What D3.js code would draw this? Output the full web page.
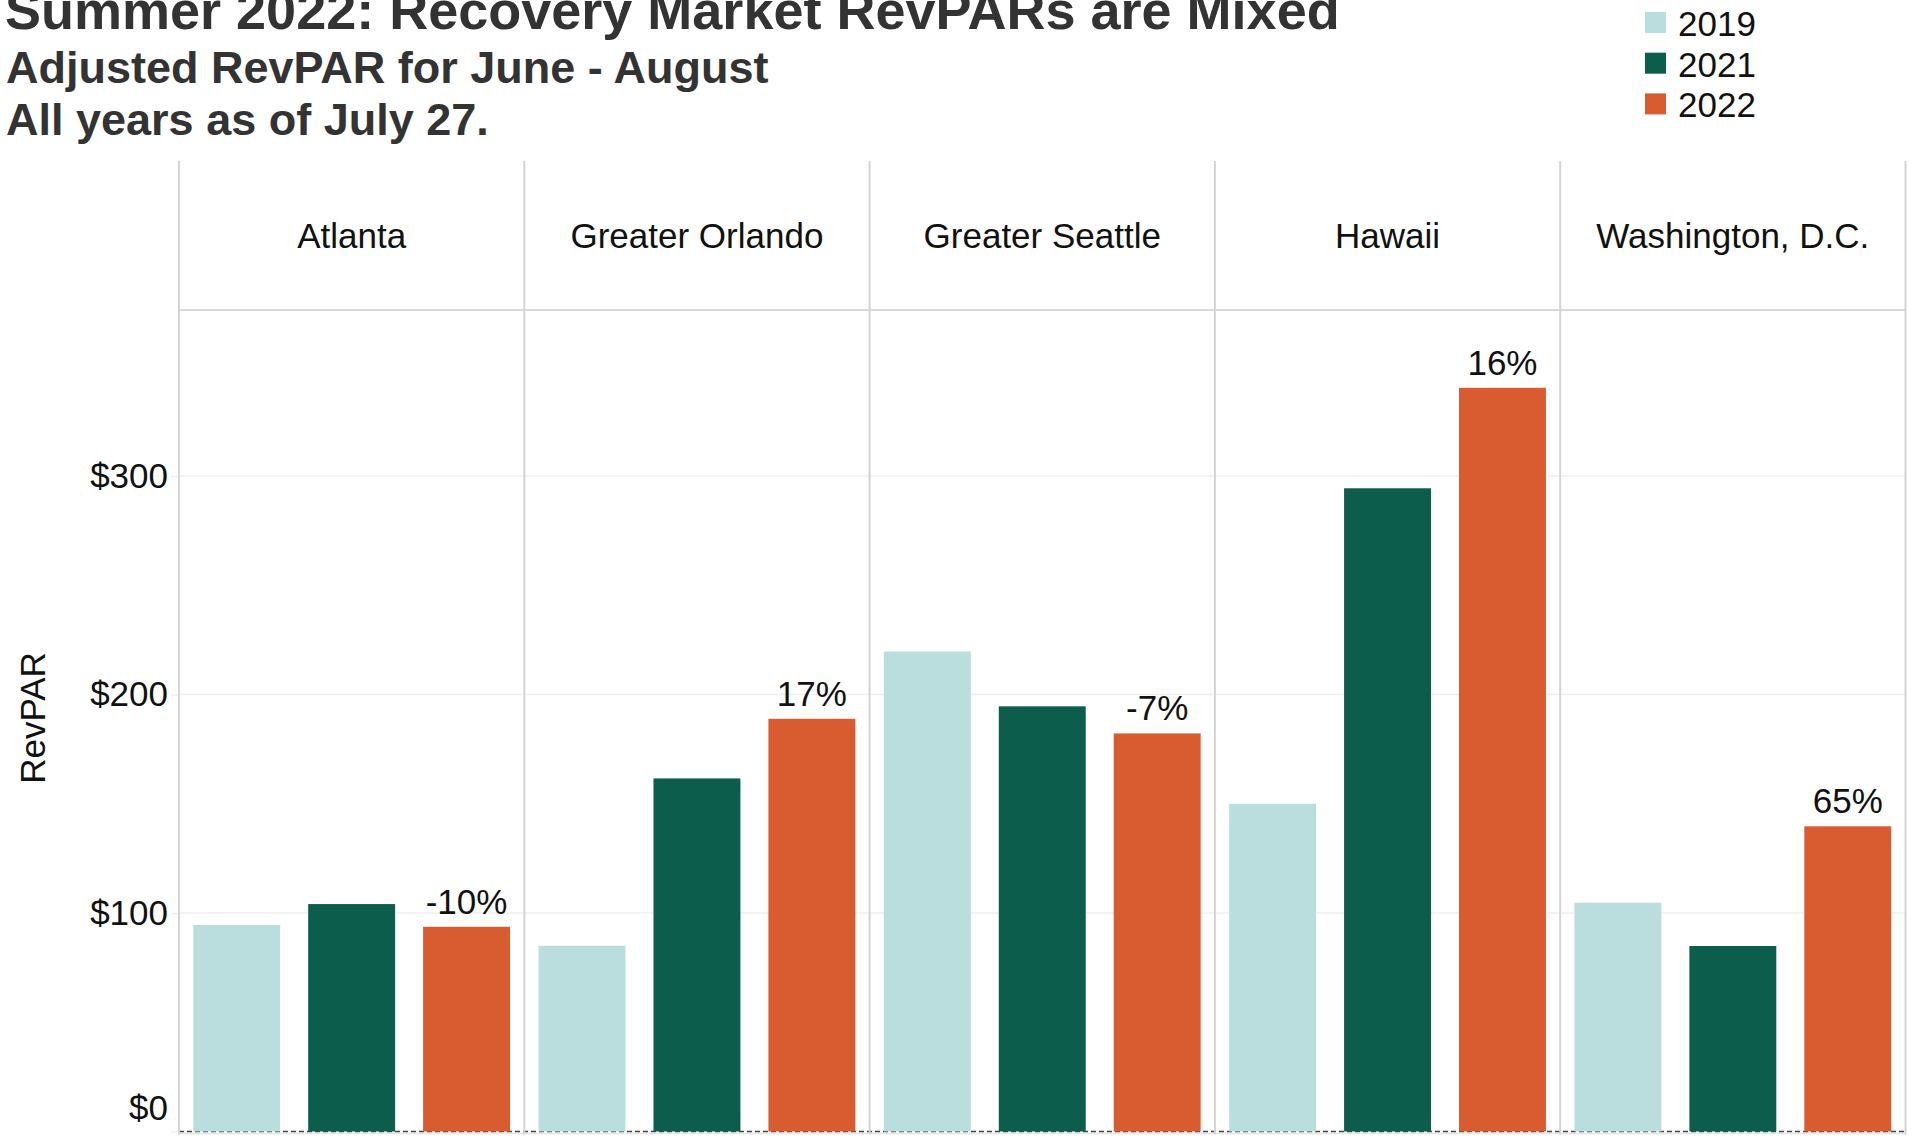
<!DOCTYPE html>
<html lang="en">
<head>
  <meta charset="UTF-8">
  <title>Summer 2022: Recovery Market RevPARs are Mixed</title>
  <script src="https://d3js.org/d3.v7.min.js"></script>
  <style>
    body {
      margin: 0;
      padding: 0;
      background: #fff;
      font-family: "Liberation Sans", Arial, sans-serif;
    }
  </style>
</head>
<body>
  <div id="chart"></div>
  <script>
    const cities = ["Atlanta", "Greater Orlando", "Greater Seattle", "Hawaii", "Washington, D.C."];
    const years = ["2019", "2021", "2022"];
    const revpar2019 = [94.5, 85, 219.7, 150, 104.7];
    const revpar2021 = [104.1, 161.6, 194.6, 294.4, 84.9];
    const revpar2022 = [93.7, 188.9, 182.2, 340.4, 139.7];
    const changeLabels = ["-10%", "17%", "-7%", "16%", "65%"];
    const yTicks = [0, 100, 200, 300];

    const colors = { "2019": "#badede", "2021": "#0d5d4c", "2022": "#d95c31" };
    const seriesByYear = { "2019": revpar2019, "2021": revpar2021, "2022": revpar2022 };

    const rows = [];
    cities.forEach((c, i) => {
      years.forEach(y => rows.push({ city: c, year: y, value: seriesByYear[y][i] }));
    });

    const W = 1913, H = 1140;
    const left = 179, right = 1905.5, headerTop = 161, plotTop = 310, plotBottom = 1131.5;

    const svg = d3.select("#chart").append("svg")
      .attr("width", W)
      .attr("height", H);

    const fx = d3.scaleBand().domain(cities).range([left, right]);
    const x = d3.scaleBand().domain(years)
      .range([0, fx.bandwidth()])
      .paddingInner(0.2435)
      .paddingOuter(0.124);
    const y = d3.scaleLinear().domain([0, 376]).range([plotBottom, plotTop]);

    // titles
    svg.append("text")
      .attr("x", 5).attr("y", 29)
      .attr("font-size", 54).attr("font-weight", "bold").attr("fill", "#333")
      .text("Summer 2022: Recovery Market RevPARs are Mixed");
    svg.append("text")
      .attr("x", 6).attr("y", 83)
      .attr("font-size", 45).attr("font-weight", "bold").attr("fill", "#333")
      .text("Adjusted RevPAR for June - August");
    svg.append("text")
      .attr("x", 6).attr("y", 135)
      .attr("font-size", 45).attr("font-weight", "bold").attr("fill", "#333")
      .text("All years as of July 27.");

    // legend
    const legend = svg.append("g").selectAll("g")
      .data(years)
      .join("g")
      .attr("transform", (d, i) => `translate(1645,${12 + i * 40.7})`);
    legend.append("rect")
      .attr("width", 21).attr("height", 21)
      .attr("fill", d => colors[d]);
    legend.append("text")
      .attr("x", 33).attr("y", 24)
      .attr("font-size", 35).attr("fill", "#111")
      .text(d => d);

    // gridlines
    svg.append("g").selectAll("line")
      .data(yTicks.filter(d => d > 0))
      .join("line")
      .attr("x1", left).attr("x2", right)
      .attr("y1", d => y(d)).attr("y2", d => y(d))
      .attr("stroke", "#efefef").attr("stroke-width", 1.5);

    // y axis
    const yAxis = svg.append("g")
      .attr("transform", `translate(${left},0)`)
      .call(d3.axisLeft(y).tickValues(yTicks).tickFormat(d => "$" + d).tickSize(8).tickPadding(3));
    yAxis.select(".domain").remove();
    yAxis.selectAll(".tick line").attr("stroke", "#efefef").attr("stroke-width", 1.5);
    yAxis.selectAll(".tick text")
      .attr("font-size", 35)
      .attr("font-family", "'Liberation Sans', Arial, sans-serif")
      .attr("fill", "#111")
      .attr("transform", d => d === 0 ? "translate(0,-23)" : null);

    svg.append("text")
      .attr("transform", `translate(45,718) rotate(-90)`)
      .attr("text-anchor", "middle")
      .attr("font-size", 35).attr("fill", "#111")
      .text("RevPAR");

    // header divider
    svg.append("line")
      .attr("x1", left).attr("x2", right)
      .attr("y1", plotTop).attr("y2", plotTop)
      .attr("stroke", "#d9d9d9").attr("stroke-width", 2);

    // baseline
    svg.append("line")
      .attr("x1", left).attr("x2", right)
      .attr("y1", plotBottom + 2).attr("y2", plotBottom + 2)
      .attr("stroke", "#e4e4e4").attr("stroke-width", 1.5);
    svg.append("line")
      .attr("x1", left).attr("x2", right)
      .attr("y1", plotBottom).attr("y2", plotBottom)
      .attr("stroke", "#444").attr("stroke-width", 1.5)
      .attr("stroke-dasharray", "5,3");

    // panel separators
    svg.append("g").selectAll("line")
      .data(cities.map(c => fx(c)).concat([right]))
      .join("line")
      .attr("x1", d => d).attr("x2", d => d)
      .attr("y1", headerTop).attr("y2", plotBottom + 3)
      .attr("stroke", "#d4d4d4").attr("stroke-width", 2);

    // panel headers
    svg.append("g").selectAll("text")
      .data(cities)
      .join("text")
      .attr("x", d => fx(d) + fx.bandwidth() / 2)
      .attr("y", 248)
      .attr("text-anchor", "middle")
      .attr("font-size", 35).attr("fill", "#111")
      .text(d => d);

    // bars
    svg.append("g").selectAll("rect")
      .data(rows)
      .join("rect")
      .attr("x", d => fx(d.city) + x(d.year))
      .attr("width", x.bandwidth())
      .attr("y", d => y(d.value))
      .attr("height", d => y(0) - y(d.value))
      .attr("fill", d => colors[d.year]);

    // change labels on 2022 bars
    svg.append("g").selectAll("text")
      .data(rows.filter(d => d.year === "2022"))
      .join("text")
      .attr("x", d => fx(d.city) + x(d.year) + x.bandwidth() / 2)
      .attr("y", d => y(d.value) - 13)
      .attr("text-anchor", "middle")
      .attr("font-size", 35).attr("fill", "#111")
      .text((d, i) => changeLabels[i]);
  </script>
</body>
</html>
